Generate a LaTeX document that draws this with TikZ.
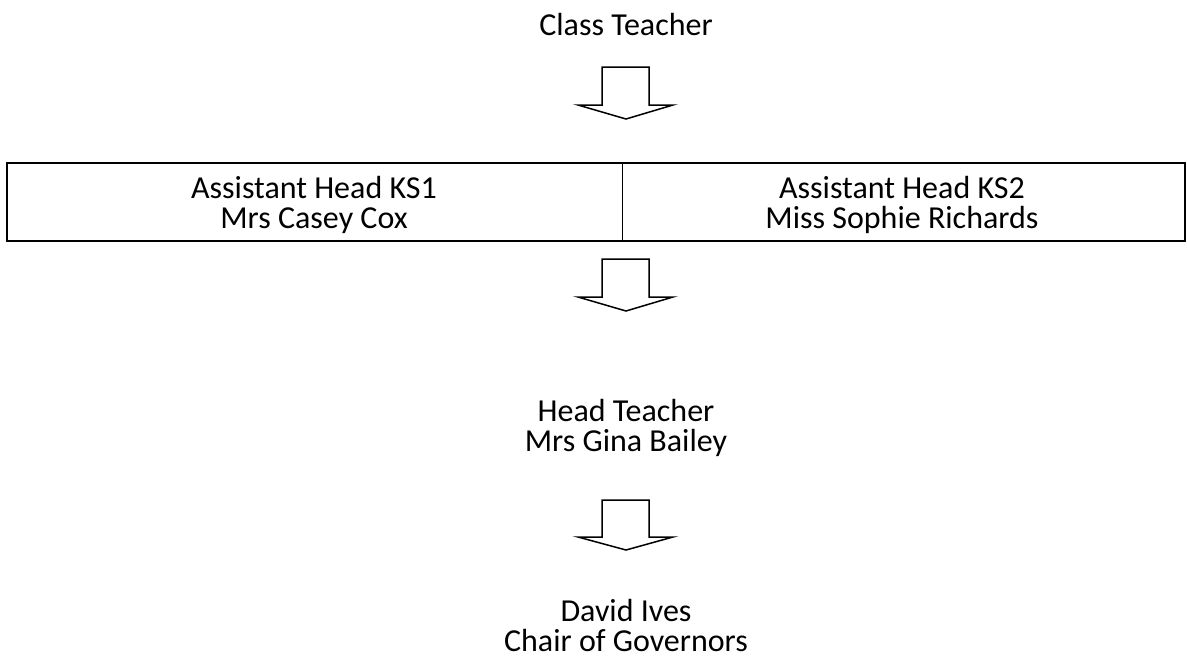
\documentclass[tikz,border=0pt]{standalone}
\usepackage{fontspec}
\setmainfont{Carlito}
\begin{document}
\begin{tikzpicture}[x=1pt,y=-1pt,
  lbl/.style={inner sep=0pt,align=center,anchor=base,font=\fontsize{32}{30}\selectfont},
  blockarrow/.style={draw=black,line width=1.5pt,fill=white,line join=miter},
  tbl/.style={draw=black,line width=2pt}]
\useasboundingbox (0,0) rectangle (1187,665);
\node[lbl] (ct) at (626,35) {Class Teacher};
\draw[blockarrow] (602,67) -- (649,67) -- (649,105) -- (673,105) -- (626,119) -- (578,105) -- (602,105) -- cycle;
\draw[tbl] (7,163) rectangle (1185,241);
\draw[line width=1pt] (622,163) -- (622,241);
\node[lbl] (ks1) at (314,228) {Assistant Head KS1\\Mrs Casey Cox};
\node[lbl] (ks2) at (902,228) {Assistant Head KS2\\Miss Sophie Richards};
\draw[blockarrow] (602,259) -- (649,259) -- (649,297) -- (673,297) -- (626,311) -- (578,297) -- (602,297) -- cycle;
\node[lbl] (ht) at (626,451) {Head Teacher\\Mrs Gina Bailey};
\draw[blockarrow] (602,500) -- (649,500) -- (649,537) -- (673,537) -- (626,550) -- (578,537) -- (602,537) -- cycle;
\node[lbl] (cg) at (626,651) {David Ives\\Chair of Governors};
\end{tikzpicture}
\end{document}
